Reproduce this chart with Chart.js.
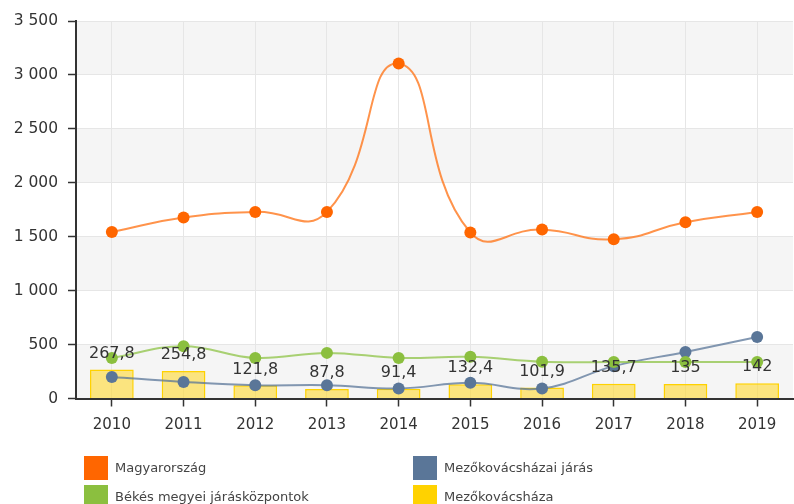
<!DOCTYPE html>
<html>
<head>
<meta charset="utf-8">
<script src="https://cdn.jsdelivr.net/npm/chart.js@4/dist/chart.umd.min.js"></script>
<style>
  html, body { margin: 0; padding: 0; background: #fff; overflow: hidden; }
  #wrap { position: relative; width: 794px; height: 504px; overflow: hidden; }
  canvas { position: absolute; left: 0; top: 0; }
  .lg { position: absolute; font: 13px "DejaVu Sans", Verdana, sans-serif; color: #444; white-space: nowrap; }
  .lg i { position: absolute; left: 0; top: 0; width: 24px; height: 24px; }
  .lg span { position: absolute; left: 31px; top: 4px; }
</style>
</head>
<body>
<div id="wrap">
  <canvas id="c" width="799" height="504"></canvas>
  <div class="lg" style="left:84px;top:456px"><i style="background:#ff6600"></i><span>Magyarország</span></div>
  <div class="lg" style="left:413px;top:456px"><i style="background:#5a7698"></i><span>Mezőkovácsházai járás</span></div>
  <div class="lg" style="left:84px;top:485px"><i style="background:#8bbf3f"></i><span>Békés megyei járásközpontok</span></div>
  <div class="lg" style="left:413px;top:485px"><i style="background:#ffd200"></i><span>Mezőkovácsháza</span></div>
</div>
<script>
// Years on the category axis
const years = ['2010', '2011', '2012', '2013', '2014', '2015', '2016', '2017', '2018', '2019'];
// Series values
const magyarorszag = [1544, 1678, 1730, 1730, 3105, 1539, 1566, 1477, 1634, 1730];
const bekesKozpontok = [376, 485, 376, 423, 376, 386, 340, 338, 338, 338];
const mezokovacshazaiJaras = [200, 154, 123, 123, 93, 145, 93, 300, 432, 571];
const mezokovacshaza = [267.8, 254.8, 121.8, 87.8, 91.4, 132.4, 101.9, 135.7, 135, 142];
// Value axis ticks
const yTicks = [0, 500, 1000, 1500, 2000, 2500, 3000, 3500];

const FONT = '"DejaVu Sans", Verdana, sans-serif';
const fmtThousands = v => String(v).replace(/\B(?=(\d{3})+(?!\d))/g, ' ');
const fmtDecimal = v => String(v).replace('.', ',');

// Alternating horizontal bands behind the plot
const bands = {
  id: 'bands',
  beforeDraw(chart) {
    const { ctx, chartArea: a, scales: { y } } = chart;
    ctx.save();
    ctx.fillStyle = '#f5f5f5';
    for (let i = 0; i < yTicks.length - 1; i++) {
      if ((yTicks.length - 2 - i) % 2 === 0) {
        const top = y.getPixelForValue(yTicks[i + 1]);
        const bot = y.getPixelForValue(yTicks[i]);
        ctx.fillRect(a.left, top, a.right - a.left, bot - top);
      }
    }
    ctx.restore();
  }
};

// Value labels above the bars
const barLabels = {
  id: 'barLabels',
  afterDatasetsDraw(chart) {
    const { ctx } = chart;
    const idx = chart.data.datasets.findIndex(d => d.type === 'bar');
    const meta = chart.getDatasetMeta(idx);
    ctx.save();
    ctx.font = '16px ' + FONT;
    ctx.fillStyle = '#333';
    ctx.textAlign = 'center';
    ctx.textBaseline = 'middle';
    meta.data.forEach((el, i) => {
      ctx.fillText(fmtDecimal(mezokovacshaza[i]), el.x, el.y - 16);
    });
    ctx.restore();
  }
};

const lineDs = (label, data, line, point, order, tension) => ({
  type: 'line', label, data, order,
  borderColor: line, borderWidth: 2,
  pointBackgroundColor: point, pointBorderWidth: 0, pointRadius: 6, pointHoverRadius: 6,
  tension, fill: false
});

new Chart(document.getElementById('c'), {
  data: {
    labels: years,
    datasets: [
      lineDs('Magyarország', magyarorszag, 'rgba(255,120,30,0.8)', '#ff6600', 1, 0.5),
      lineDs('Békés megyei járásközpontok', bekesKozpontok, 'rgba(141,195,70,0.75)', '#8bbf3f', 2, 0.4),
      lineDs('Mezőkovácsházai járás', mezokovacshazaiJaras, 'rgba(90,118,152,0.75)', '#5a7698', 3, 0.4),
      {
        type: 'bar', label: 'Mezőkovácsháza', data: mezokovacshaza, order: 4,
        backgroundColor: 'rgba(255,214,30,0.55)', borderColor: '#ffd200', borderWidth: 1.5,
        barPercentage: 0.61, categoryPercentage: 1
      }
    ]
  },
  options: {
    responsive: false,
    animation: false,
    devicePixelRatio: 1,
    layout: { padding: { top: 21, left: 0, right: 0, bottom: 0 } },
    plugins: { legend: { display: false }, tooltip: { enabled: false } },
    scales: {
      x: {
        grid: { color: '#e6e6e6', offset: false, tickColor: '#333', tickLength: 8, tickWidth: 1.5 },
        border: { color: '#333', width: 2 },
        ticks: { color: '#333', font: { family: FONT, size: 15 }, padding: 10, maxRotation: 0 },
        afterFit(s) { s.height = 504 - 398.5; }
      },
      y: {
        min: 0, max: 3500,
        afterBuildTicks(s) { s.ticks = yTicks.map(v => ({ value: v })); },
        grid: { color: '#e6e6e6', tickColor: '#333', tickLength: 8, tickWidth: 1.5 },
        border: { color: '#333', width: 2 },
        ticks: { color: '#333', font: { family: FONT, size: 15.5 }, padding: 10, callback: v => fmtThousands(v) },
        afterFit(s) { s.width = 76; }
      }
    }
  },
  plugins: [bands, barLabels]
});
</script>
</body>
</html>
